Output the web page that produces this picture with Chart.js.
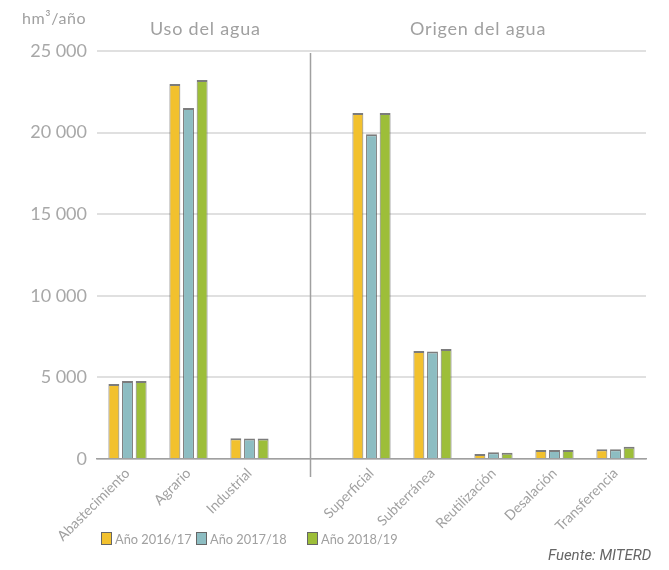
<!DOCTYPE html>
<html>
<head>
<meta charset="utf-8">
<script src="https://cdn.jsdelivr.net/npm/chart.js@4/dist/chart.umd.min.js"></script>
<style>
	body { margin: 0; background: #fff; }
	#wrap { position: relative; width: 669px; height: 570px; font-family: Lato, sans-serif; color: #a0a0a0; }
	.t { position: absolute; white-space: nowrap; }
	.sw { display: inline-block; width: 9px; height: 11px; border: 1px solid #666; margin-right: 3px; vertical-align: -1px; }
</style>
</head>
<body>
<div id="wrap">
	<canvas id="waterChart" width="669" height="570"></canvas>
	<div class="t" style="left:22px; top:8px; font-size:16px; letter-spacing:0.6px;">hm³/año</div>
	<div class="t" style="left:150px; top:17px; font-size:18px; letter-spacing:0.8px;">Uso del agua</div>
	<div class="t" style="left:410px; top:17px; font-size:18px; letter-spacing:0.8px;">Origen del agua</div>
	<div class="t" style="left:101px; top:531px; font-size:12.8px;"><span class="sw" style="background:#f2c12e"></span>Año 2016/17</div>
	<div class="t" style="left:196px; top:531px; font-size:12.8px;"><span class="sw" style="background:#8dbdc2"></span>Año 2017/18</div>
	<div class="t" style="left:307px; top:531px; font-size:12.8px;"><span class="sw" style="background:#9dbe39"></span>Año 2018/19</div>
	<div class="t" style="left:548px; top:546px; font-size:15px; font-style:italic; color:#666; font-family:Roboto, sans-serif;">Fuente: MITERD</div>
</div>
<script>
// categories (empty slot separates the two groups)
const categories = ["Abastecimiento", "Agrario", "Industrial", "", "Superficial", "Subterránea", "Reutilización", "Desalación", "Transferencia"];
const seriesNames = ["Año 2016/17", "Año 2017/18", "Año 2018/19"];
const year1617 = [4600, 22980, 1270, null, 21200, 6620, 310, 550, 590];
const year1718 = [4780, 21500, 1260, null, 19900, 6580, 420, 550, 590];
const year1819 = [4780, 23220, 1260, null, 21200, 6740, 390, 550, 750];
const yTicks = [0, 5000, 10000, 15000, 20000, 25000];
const barColors = ["#f2c12e", "#8dbdc2", "#9dbe39"];

function fmt(v) {
	return String(v).replace(/\B(?=(\d{3})+(?!\d))/g, " ");
}

// vertical separator drawn at the empty category
const separator = {
	id: "separator",
	afterDatasetsDraw(chart) {
		const x = chart.scales.x.getPixelForValue(3);
		const ctx = chart.ctx;
		ctx.save();
		ctx.strokeStyle = "#a0a0a0";
		ctx.lineWidth = 1.5;
		ctx.beginPath();
		ctx.moveTo(x, chart.chartArea.top + 2);
		ctx.lineTo(x, chart.chartArea.bottom + 18);
		ctx.stroke();
		ctx.restore();
	},
};

let ctx = document.getElementById("waterChart").getContext("2d");

var waterChart = new Chart(ctx, {
	type: "bar",
	data: {
		labels: categories,
		datasets: [year1617, year1718, year1819].map((d, i) => ({
			label: seriesNames[i],
			data: d,
			backgroundColor: barColors[i],
			borderColor: "rgba(80,80,80,0.75)",
			borderWidth: { top: 2, left: 1, right: 1, bottom: 0 },
			categoryPercentage: 0.67,
			barPercentage: 0.8,
		})),
	},
	options: {
		responsive: false,
		animation: false,
		layout: {
			autoPadding: false,
			padding: { top: 51, right: 23, left: 0, bottom: 0 },
		},
		plugins: {
			legend: { display: false },
			tooltip: { enabled: false },
		},
		scales: {
			x: {
				afterFit(scale) { scale.height = 111; },
				grid: { display: false, drawTicks: false },
				border: { color: "#a0a0a0", width: 1.5 },
				ticks: {
					color: "#a0a0a0",
					font: { family: "Lato", size: 14 },
					minRotation: 45,
					maxRotation: 45,
					autoSkip: false,
					padding: 6,
				},
			},
			y: {
				min: 0,
				max: 25000,
				afterFit(scale) { scale.width = 97; },
				afterBuildTicks(scale) { scale.ticks = yTicks.map(v => ({ value: v })); },
				grid: { color: "#e0e0e0", lineWidth: 2, drawTicks: false },
				border: { display: false },
				ticks: {
					color: "#a8a8a8",
					font: { family: "Lato", size: 18 },
					padding: 10,
					callback: v => fmt(v),
				},
			},
		},
	},
	plugins: [separator],
});
</script>
</body>
</html>
